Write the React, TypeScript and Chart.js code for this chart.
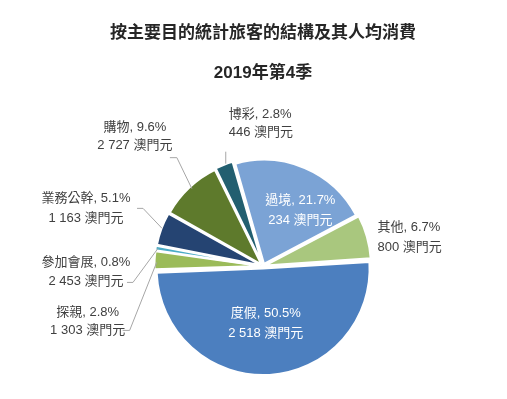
import React, { useEffect, useRef } from "react";
import { Chart, registerables } from "chart.js";

Chart.register(...registerables);

const titleText = "按主要目的統計旅客的結構及其人均消費";
const subtitleText = "2019年第4季";
const categories = ["過境", "其他", "度假", "探親", "參加會展", "業務公幹", "購物", "博彩"];
const shares = [21.7, 6.7, 50.5, 2.8, 0.8, 5.1, 9.6, 2.8];
const spending = [234, 800, 2518, 1303, 2453, 1163, 2727, 446];
const unit = "澳門元";

const colors = ["#7BA3D5", "#A9C77E", "#4C7FBF", "#9BBB59", "#4BACC6", "#254472", "#5E7A2C", "#225F70"];

const FONT = "'Liberation Sans', 'Noto Sans CJK TC', sans-serif";
const SLICE_OFFSET = 10;

type Lay = {
  inside: boolean;
  frac?: number;
  dx: number;
  dy: number;
  align: CanvasTextAlign;
  gap: number;
  leader?: number[][];
};

// label placement relative to each slice (inside: along mid-angle; outside: relative to arc anchor)
const labelLayout: Lay[] = [
  { inside: true, frac: 0.55, dx: 14, dy: -1, align: "center", gap: 20 },
  { inside: false, dx: 12, dy: 0, align: "left", gap: 20 },
  { inside: true, frac: 0.51, dx: 0, dy: 2, align: "center", gap: 20 },
  { inside: false, dx: -69, dy: 61, align: "center", gap: 18, leader: [[0, 2], [-27, 70], [-34, 70]] },
  { inside: false, dx: -72, dy: 24, align: "center", gap: 19, leader: [[0, 0], [-25, 34], [-31, 34]] },
  { inside: false, dx: -77, dy: -21, align: "center", gap: 20, leader: [[-1, -1], [-20, -21], [-26, -21]] },
  { inside: false, dx: -55, dy: -52, align: "center", gap: 18, leader: [[2, 0], [-13, -31], [-20, -31]] },
  { inside: false, dx: 4, dy: -43, align: "left", gap: 18, leader: [[1, -3], [1, -15]] },
];

function fmt(n: number): string {
  return String(n).replace(/\B(?=(\d{3})+(?!\d))/g, " ");
}

const labelPlugin = {
  id: "pieLabels",
  afterDatasetsDraw(chart: any) {
    const ctx = chart.ctx;
    const meta = chart.getDatasetMeta(0);
    ctx.save();
    ctx.font = `13px ${FONT}`;
    ctx.textBaseline = "middle";
    meta.data.forEach((arc: any, i: number) => {
      const lay = labelLayout[i];
      const { x, y, startAngle, endAngle, outerRadius } = arc.getProps(
        ["x", "y", "startAngle", "endAngle", "outerRadius"],
        true
      );
      const mid = (startAngle + endAngle) / 2;
      const off = SLICE_OFFSET / 4;
      const cx = x + Math.cos(mid) * off;
      const cy = y + Math.sin(mid) * off;
      const line1 = `${categories[i]}, ${shares[i].toFixed(1)}%`;
      const line2 = `${fmt(spending[i])} ${unit}`;
      let tx: number, ty: number;
      if (lay.inside) {
        const r = outerRadius * (lay.frac || 0.5);
        tx = cx + Math.cos(mid) * r + lay.dx;
        ty = cy + Math.sin(mid) * r + lay.dy;
        ctx.fillStyle = "#FFFFFF";
      } else {
        const ax = cx + Math.cos(mid) * outerRadius;
        const ay = cy + Math.sin(mid) * outerRadius;
        tx = ax + lay.dx;
        ty = ay + lay.dy;
        if (lay.leader) {
          ctx.strokeStyle = "#A6A6A6";
          ctx.lineWidth = 1;
          ctx.beginPath();
          lay.leader.forEach((p, k) => {
            const px = ax + p[0];
            const py = ay + p[1];
            if (k === 0) ctx.moveTo(px, py);
            else ctx.lineTo(px, py);
          });
          ctx.stroke();
        }
        ctx.fillStyle = "#404040";
      }
      ctx.textAlign = lay.align;
      ctx.fillText(line1, tx, ty - lay.gap / 2);
      ctx.fillText(line2, tx, ty + lay.gap / 2);
    });
    ctx.restore();
  },
};

export default function App() {
  const ref = useRef<HTMLCanvasElement | null>(null);
  useEffect(() => {
    if (!ref.current) return;
    const chart = new Chart(ref.current, {
      type: "pie",
      data: {
        labels: categories,
        datasets: [
          {
            data: shares,
            backgroundColor: colors,
            borderColor: "#FFFFFF",
            borderWidth: 2,
            offset: SLICE_OFFSET,
          },
        ],
      },
      options: {
        responsive: false,
        animation: false,
        rotation: -16,
        radius: 104,
        layout: { padding: { left: 19, right: 0, top: 0, bottom: 4 } },
        plugins: {
          legend: { display: false },
          tooltip: { enabled: false },
          title: {
            display: true,
            text: titleText,
            color: "#262626",
            font: { size: 17, weight: "bold", family: FONT },
            padding: { top: 23, bottom: 0 },
          },
          subtitle: {
            display: true,
            text: subtitleText,
            color: "#262626",
            font: { size: 17, weight: "bold", family: FONT },
            padding: { top: 19.4, bottom: 54 },
          },
        },
      } as any,
      plugins: [labelPlugin],
    });
    return () => chart.destroy();
  }, []);
  return (
    <div style={{ position: "absolute", left: 0, top: 0, width: 507, height: 399, background: "#FFFFFF" }}>
      <canvas ref={ref} width={507} height={399} style={{ display: "block" }} />
    </div>
  );
}
